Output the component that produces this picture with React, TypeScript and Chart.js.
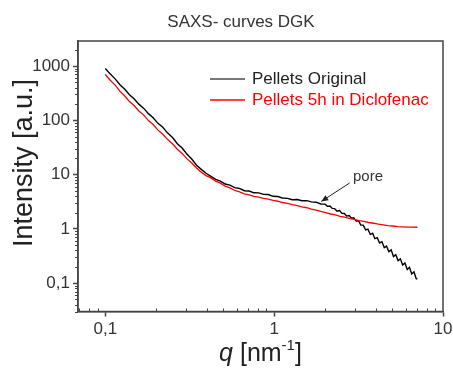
import { useEffect, useRef } from 'react';
import { Chart, registerables } from 'chart.js';

Chart.register(...registerables);

const qDiclofenac = [
  0.100, 0.107, 0.114, 0.122, 0.130, 0.139, 0.148, 0.158, 0.169, 0.180,
  0.192, 0.205, 0.219, 0.234, 0.250, 0.267, 0.285, 0.304, 0.325, 0.347,
  0.370, 0.395, 0.422, 0.450, 0.480, 0.513, 0.547, 0.584, 0.624, 0.666,
  0.711, 0.759, 0.810, 0.865, 0.923, 0.985, 1.05, 1.12, 1.20, 1.28,
  1.37, 1.46, 1.56, 1.66, 1.77, 1.89, 2.02, 2.16, 2.30, 2.46,
  2.62, 2.80, 2.99, 3.19, 3.40, 3.63, 3.88, 4.14, 4.42, 4.72,
  5.04, 5.38, 5.74, 6.13, 6.54, 6.98, 7.05,
];

const diclofenacIntensity = [
  700, 548, 450, 346, 284, 222, 188, 149, 125, 99,
  84, 66, 55.5, 44.2, 37.0, 29.4, 24.6, 19.7, 16.4, 13.2,
  11.1, 9.6, 8.7, 7.6, 6.95, 6.15, 5.7, 5.1, 4.8, 4.42,
  4.22, 3.97, 3.86, 3.66, 3.54, 3.35, 3.23, 3.06, 2.96, 2.8,
  2.69, 2.55, 2.45, 2.31, 2.22, 2.1, 2.0, 1.88, 1.81, 1.7,
  1.64, 1.55, 1.5, 1.42, 1.37, 1.31, 1.27, 1.22, 1.19, 1.15,
  1.13, 1.1, 1.09, 1.08, 1.075, 1.07, 1.07,
];

const qOriginal = [
  0.100, 0.107, 0.114, 0.122, 0.130, 0.139, 0.148, 0.158, 0.169, 0.180,
  0.192, 0.205, 0.219, 0.234, 0.250, 0.267, 0.285, 0.304, 0.325, 0.347,
  0.370, 0.395, 0.422, 0.450, 0.480, 0.513, 0.547, 0.584, 0.624, 0.666,
  0.711, 0.759, 0.810, 0.865, 0.923, 0.985, 1.05, 1.12, 1.20, 1.28,
  1.37, 1.46, 1.56, 1.66, 1.77, 1.89, 2.00, 2.07, 2.14, 2.21,
  2.28, 2.36, 2.44, 2.52, 2.60, 2.69, 2.78, 2.87, 2.96, 3.06,
  3.16, 3.26, 3.37, 3.48, 3.59, 3.71, 3.83, 3.95, 4.08, 4.21,
  4.35, 4.49, 4.63, 4.78, 4.93, 5.09, 5.25, 5.42, 5.59, 5.77,
  5.95, 6.14, 6.33, 6.53, 6.73, 6.94, 7.05,
];

const originalIntensity = [
  905, 712, 588, 455, 378, 296, 250, 199, 166, 133,
  112, 88, 74.5, 58.2, 48.1, 37.2, 30.9, 24.0, 19.4, 14.9,
  12.5, 10.6, 9.3, 8.2, 7.6, 6.7, 6.4, 5.75, 5.55, 5.05,
  4.98, 4.62, 4.6, 4.32, 4.3, 3.98, 3.95, 3.7, 3.65, 3.45,
  3.47, 3.3, 3.31, 3.14, 3.1, 2.88, 2.86, 2.60, 2.63, 2.38,
  2.36, 2.12, 2.18, 1.93, 1.92, 1.72, 1.76, 1.57, 1.60, 1.40,
  1.41, 1.17, 1.17, 0.96, 0.99, 0.79, 0.83, 0.66, 0.69, 0.55,
  0.58, 0.45, 0.48, 0.38, 0.41, 0.31, 0.335, 0.26, 0.28, 0.215,
  0.235, 0.178, 0.196, 0.148, 0.162, 0.121, 0.118,
];

const seriesNames = ['Pellets Original', 'Pellets 5h in Diclofenac'];
const seriesColors = ['#000000', '#ff0000'];
const legendLineColors = ['#4a4a4a', '#ff0000'];
const legendTextColors = ['#222222', '#ff0000'];

const xTickValues = [0.1, 1, 10];
const xTickLabels = ['0,1', '1', '10'];
const yTickValues = [0.1, 1, 10, 100, 1000];
const yTickLabels = ['0,1', '1', '10', '100', '1000'];

const chartTitle = 'SAXS- curves DGK';
const yTitle = 'Intensity [a.u.]';
const xTitleVar = 'q';
const xTitleUnit = ' [nm';
const xTitleExp = '-1';
const xTitleEnd = ']';

const poreLabel = 'pore';
const poreTip = { x: 1.9, y: 3.2 };
const poreTail = { x: 2.8, y: 7.0 };
const poreText = { x: 2.93, y: 9.1 };

const FONT = '"Liberation Sans", Arial, sans-serif';
const AXIS_COLOR = '#444444';
const TEXT_COLOR = '#333333';

const decorPlugin = {
  id: 'decor',
  afterDraw(chart: any) {
    const ctx = chart.ctx as CanvasRenderingContext2D;
    const area = chart.chartArea;
    const xs = chart.scales.x;
    const ys = chart.scales.y;
    ctx.save();

    ctx.strokeStyle = AXIS_COLOR;
    ctx.lineWidth = 1.5;
    ctx.strokeRect(area.left, area.top, area.right - area.left, area.bottom - area.top);

    ctx.lineWidth = 1;
    ctx.beginPath();
    for (const d of [0.01, 0.1, 1]) {
      for (let k = 2; k <= 9; k++) {
        const v = k * d;
        if (v < xs.min || v > xs.max) continue;
        const px = Math.round(xs.getPixelForValue(v)) + 0.5;
        ctx.moveTo(px, area.bottom);
        ctx.lineTo(px, area.bottom - 3);
      }
    }
    for (const d of [0.01, 0.1, 1, 10, 100, 1000]) {
      for (let k = 2; k <= 9; k++) {
        const v = k * d;
        if (v < ys.min || v > ys.max) continue;
        const py = Math.round(ys.getPixelForValue(v)) + 0.5;
        ctx.moveTo(area.left, py);
        ctx.lineTo(area.left - 3, py);
      }
    }
    ctx.stroke();

    ctx.fillStyle = TEXT_COLOR;
    ctx.font = `17px ${FONT}`;
    ctx.textAlign = 'center';
    ctx.textBaseline = 'middle';
    ctx.fillText(chartTitle, 241, 22);

    ctx.save();
    ctx.translate(25, 163);
    ctx.rotate(-Math.PI / 2);
    ctx.font = `27px ${FONT}`;
    ctx.fillStyle = '#222222';
    ctx.fillText(yTitle, 0, 0);
    ctx.restore();

    const base = 361;
    ctx.textAlign = 'left';
    ctx.textBaseline = 'alphabetic';
    ctx.fillStyle = '#222222';
    const fMain = `25px ${FONT}`;
    const fIt = `italic 25px ${FONT}`;
    const fSup = `15px ${FONT}`;
    ctx.font = fIt;
    const w1 = ctx.measureText(xTitleVar).width;
    ctx.font = fMain;
    const w2 = ctx.measureText(xTitleUnit).width;
    const w4 = ctx.measureText(xTitleEnd).width;
    ctx.font = fSup;
    const w3 = ctx.measureText(xTitleExp).width;
    let x = (area.left + area.right) / 2 - (w1 + w2 + w3 + w4) / 2;
    ctx.font = fIt;
    ctx.fillText(xTitleVar, x, base);
    x += w1;
    ctx.font = fMain;
    ctx.fillText(xTitleUnit, x, base);
    x += w2;
    ctx.font = fSup;
    ctx.fillText(xTitleExp, x, base - 11);
    x += w3;
    ctx.font = fMain;
    ctx.fillText(xTitleEnd, x, base);

    ctx.font = `17px ${FONT}`;
    ctx.textBaseline = 'middle';
    const legY = [79, 100];
    for (let i = 0; i < seriesNames.length; i++) {
      ctx.strokeStyle = legendLineColors[i];
      ctx.lineWidth = 1.6;
      ctx.beginPath();
      ctx.moveTo(210, legY[i]);
      ctx.lineTo(245, legY[i]);
      ctx.stroke();
      ctx.fillStyle = legendTextColors[i];
      ctx.fillText(seriesNames[i], 252, legY[i]);
    }

    const tx = xs.getPixelForValue(poreTip.x);
    const ty = ys.getPixelForValue(poreTip.y);
    const sx = xs.getPixelForValue(poreTail.x);
    const sy = ys.getPixelForValue(poreTail.y);
    ctx.strokeStyle = '#222222';
    ctx.fillStyle = '#222222';
    ctx.lineWidth = 1;
    ctx.beginPath();
    ctx.moveTo(sx, sy);
    ctx.lineTo(tx, ty);
    ctx.stroke();
    const ang = Math.atan2(ty - sy, tx - sx);
    const hl = 7;
    const hw = 3;
    ctx.beginPath();
    ctx.moveTo(tx, ty);
    ctx.lineTo(tx - hl * Math.cos(ang) + hw * Math.sin(ang), ty - hl * Math.sin(ang) - hw * Math.cos(ang));
    ctx.lineTo(tx - hl * Math.cos(ang) - hw * Math.sin(ang), ty - hl * Math.sin(ang) + hw * Math.cos(ang));
    ctx.closePath();
    ctx.fill();
    ctx.font = `15px ${FONT}`;
    ctx.fillStyle = TEXT_COLOR;
    ctx.textAlign = 'left';
    ctx.textBaseline = 'middle';
    ctx.fillText(poreLabel, xs.getPixelForValue(poreText.x), ys.getPixelForValue(poreText.y));

    ctx.restore();
  },
};

export default function App() {
  const ref = useRef<HTMLCanvasElement | null>(null);

  useEffect(() => {
    if (!ref.current) return;
    const chart = new Chart(ref.current, {
      type: 'line',
      data: {
        datasets: [
          {
            label: seriesNames[1],
            data: qDiclofenac.map((q, i) => ({ x: q, y: diclofenacIntensity[i] })),
            borderColor: seriesColors[1],
            borderWidth: 1.3,
            pointRadius: 0,
            tension: 0,
          },
          {
            label: seriesNames[0],
            data: qOriginal.map((q, i) => ({ x: q, y: originalIntensity[i] })),
            borderColor: seriesColors[0],
            borderWidth: 1.4,
            pointRadius: 0,
            tension: 0,
          },
        ],
      },
      options: {
        animation: false,
        responsive: false,
        devicePixelRatio: 1,
        layout: { padding: { left: 0, right: 10, top: 41, bottom: 0 } },
        plugins: {
          legend: { display: false },
          title: { display: false },
          tooltip: { enabled: false },
        },
        scales: {
          x: {
            type: 'logarithmic',
            min: 0.0689,
            max: 10,
            afterBuildTicks: (scale: any) => {
              scale.ticks = xTickValues.map((v) => ({ value: v, major: true }));
            },
            afterFit: (scale: any) => {
              scale.height = 58.5;
              scale.paddingLeft = 0;
              scale.paddingRight = 0;
            },
            ticks: {
              autoSkip: false,
              maxRotation: 0,
              padding: 3,
              color: TEXT_COLOR,
              font: { family: FONT, size: 17 },
              callback: (v: any) => {
                const i = xTickValues.findIndex((t) => Math.abs(t - Number(v)) < 1e-9);
                return i >= 0 ? xTickLabels[i] : '';
              },
            },
            grid: {
              display: true,
              drawOnChartArea: false,
              drawTicks: true,
              tickLength: 5,
              tickColor: AXIS_COLOR,
              tickWidth: 1.5,
            },
            border: { display: true, color: AXIS_COLOR, width: 1.5 },
          },
          y: {
            type: 'logarithmic',
            min: 0.03,
            max: 2900,
            afterBuildTicks: (scale: any) => {
              scale.ticks = yTickValues.map((v) => ({ value: v, major: true }));
            },
            afterFit: (scale: any) => {
              scale.width = 78;
              scale.paddingTop = 0;
              scale.paddingBottom = 0;
            },
            ticks: {
              autoSkip: false,
              padding: 3,
              color: TEXT_COLOR,
              font: { family: FONT, size: 17 },
              callback: (v: any) => {
                const i = yTickValues.findIndex((t) => Math.abs(t - Number(v)) / t < 1e-6);
                return i >= 0 ? yTickLabels[i] : '';
              },
            },
            grid: {
              display: true,
              drawOnChartArea: false,
              drawTicks: true,
              tickLength: 5,
              tickColor: AXIS_COLOR,
              tickWidth: 1.5,
            },
            border: { display: true, color: AXIS_COLOR, width: 1.5 },
          },
        },
      },
      plugins: [decorPlugin],
    } as any);
    return () => chart.destroy();
  }, []);

  return (
    <div style={{ position: 'fixed', left: 0, top: 0, width: 453, height: 370, background: '#fff' }}>
      <canvas ref={ref} width={453} height={370} style={{ display: 'block' }} />
    </div>
  );
}
